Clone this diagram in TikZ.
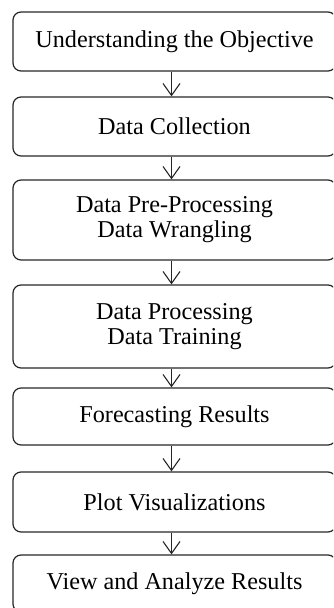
\documentclass[tikz,border=0pt]{standalone}
\usepackage{fontspec}
\setmainfont{Liberation Serif}
\usetikzlibrary{arrows.meta}
\begin{document}
\begin{tikzpicture}[x=1pt,y=1pt,
  stepbox/.style={draw=black!85, line width=1.2pt, rounded corners=8pt,
    minimum width=323pt, inner sep=0pt, align=center,
    font=\fontsize{24.2}{25}\selectfont},
  flow/.style={draw=black!85, line width=1.1pt,
    -{Straight Barb[length=12pt,width=17pt,line width=1.1pt]}}]
\useasboundingbox (0,0) rectangle (333,608);
\clip (0,0) rectangle (333,608);
\node[stepbox, minimum height=59pt] (b1) at (174.5,566.5) {Understanding the Objective};
\node[stepbox, minimum height=59pt] (b2) at (174.5,481.5) {Data Collection};
\node[stepbox, minimum height=80pt] (b3) at (174.5,388) {Data Pre-Processing\\Data Wrangling};
\node[stepbox, minimum height=83pt] (b4) at (174.5,281.5) {Data Processing\\Data Training};
\node[stepbox, minimum height=57pt] (b5) at (174.5,191.5) {Forecasting Results};
\node[stepbox, minimum height=60pt] (b6) at (174.5,106) {Plot Visualizations};
\node[stepbox, minimum height=57pt] (b7) at (174.5,24.5) {View and Analyze Results};
\foreach \a/\b in {b1/b2,b2/b3,b3/b4,b4/b5,b5/b6,b6/b7}
  \draw[flow] ([xshift=-3pt]\a.south) -- ([xshift=-3pt]\b.north);
\end{tikzpicture}
\end{document}
